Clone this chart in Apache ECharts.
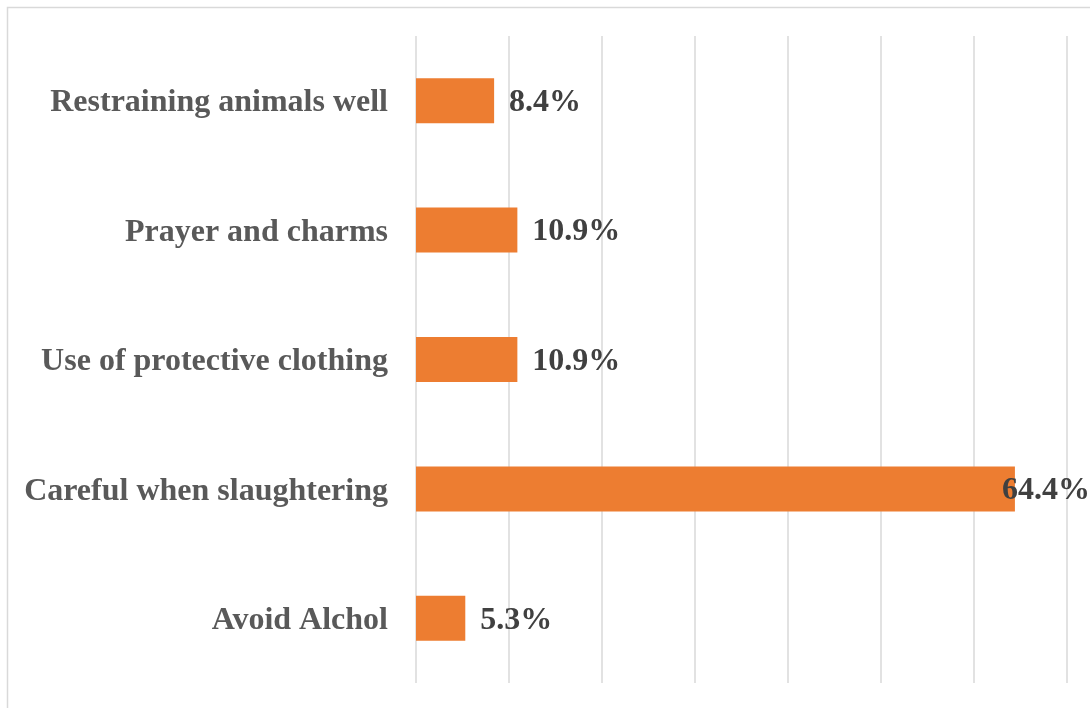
<!DOCTYPE html>
<html>
<head>
<meta charset="utf-8">
<style>
  html, body { margin: 0; padding: 0; background: #ffffff; }
  #chart { width: 1090px; height: 708px; }
</style>
<script src="https://cdn.jsdelivr.net/npm/echarts@6/dist/echarts.min.js"></script>
</head>
<body>
<div id="chart"></div>
<script>
// Preventive practices, share of respondents (%)
const categories = [
  'Restraining animals well',
  'Prayer and charms',
  'Use of protective clothing',
  'Careful when slaughtering',
  'Avoid Alchol'
];
const percentages = [8.4, 10.9, 10.9, 64.4, 5.3];

const axisMin = 0;
const axisMax = 70;
const axisStep = 10;

const serif = '"Liberation Serif", "Times New Roman", serif';
const chart = echarts.init(document.getElementById('chart'), null, { renderer: 'canvas' });

// The longest bar's label would run past the chart edge, so it is pulled back over the bar end
const largest = Math.max(...percentages);
const seriesData = percentages.map(v =>
  v === largest ? { value: v, label: { offset: [-28, 2] } } : v
);

chart.setOption({
  animation: false,
  backgroundColor: '#ffffff',
  graphic: [{
    type: 'rect',
    shape: { x: 7.5, y: 7.5, width: 1200, height: 1200 },
    style: { fill: 'none', stroke: '#d9d9d9', lineWidth: 1.5 },
    silent: true
  }],
  grid: { left: 416, right: 23, top: 36, bottom: 25 },
  xAxis: {
    type: 'value',
    min: axisMin,
    max: axisMax,
    interval: axisStep,
    axisLabel: { show: false },
    axisLine: { show: false },
    axisTick: { show: false },
    splitLine: { show: true, lineStyle: { color: '#d9d9d9', width: 1.5 } }
  },
  yAxis: {
    type: 'category',
    data: categories,
    inverse: true,
    axisLine: { show: false },
    axisTick: { show: false },
    axisLabel: {
      margin: 28,
      formatter: v => '{c|' + v + '}',
      rich: {
        c: {
          padding: [5, 0, 0, 0],
          color: '#595959',
          fontFamily: serif,
          fontWeight: 'bold',
          fontSize: 32
        }
      }
    }
  },
  series: [{
    type: 'bar',
    data: seriesData,
    barWidth: 45,
    itemStyle: { color: '#ED7D31' },
    label: {
      show: true,
      position: 'right',
      distance: 15,
      offset: [0, 2],
      color: '#404040',
      fontFamily: serif,
      fontWeight: 'bold',
      fontSize: 32,
      formatter: p => p.value.toFixed(1) + '%'
    }
  }]
});
</script>
</body>
</html>
